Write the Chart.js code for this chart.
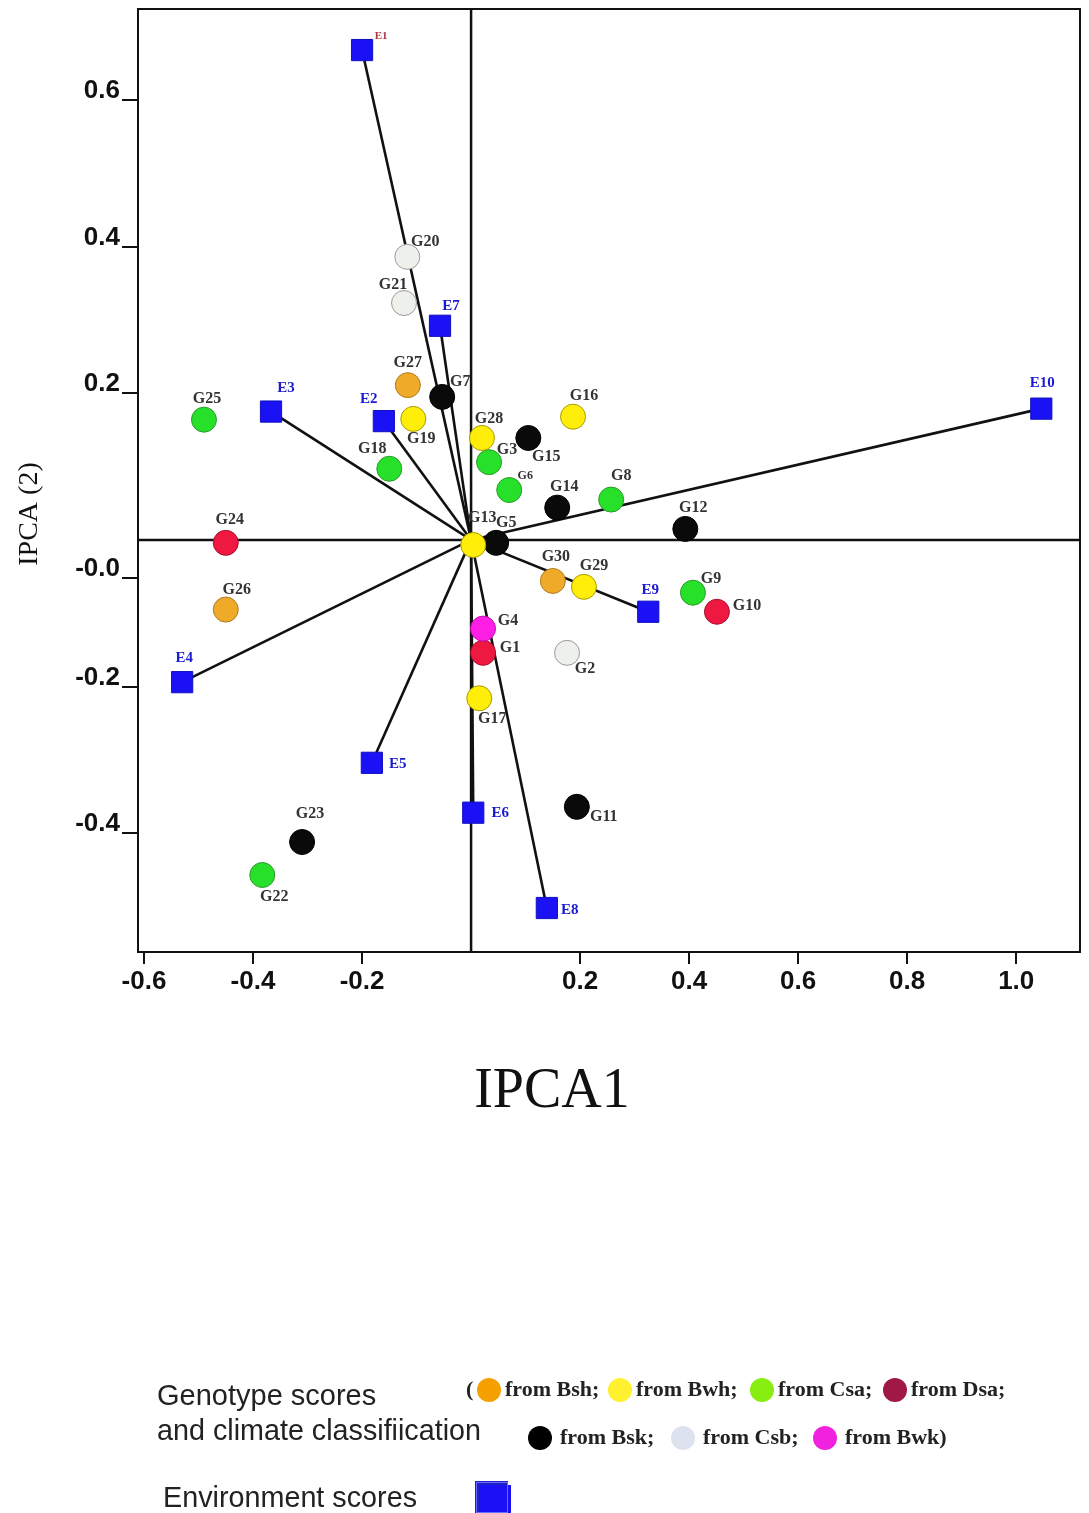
<!DOCTYPE html>
<html>
<head>
<meta charset="utf-8">
<title>AMMI biplot IPCA1 vs IPCA2</title>
<script src="https://cdn.jsdelivr.net/npm/chart.js@4.4.1/dist/chart.umd.min.js"></script>
<style>
  html, body { margin: 0; padding: 0; background: #fff; }
  #wrap { width: 1089px; height: 1513px; }
</style>
</head>
<body>
<div id="wrap"><canvas id="biplot" width="1089" height="1513"></canvas></div>
<script>
// genotype scores (IPCA1, IPCA2) and their climate class
const genoNames = ['G1','G2','G3','G4','G5','G6','G7','G8','G9','G10',
                   'G11','G12','G13','G14','G15','G16','G17','G18','G19','G20',
                   'G21','G22','G23','G24','G25','G26','G27','G28','G29','G30'];
const genoX = [0.022, 0.176, 0.033, 0.022, 0.046, 0.070, -0.053, 0.257, 0.407, 0.451,
               0.194, 0.393, 0.004, 0.158, 0.105, 0.187, 0.015, -0.150, -0.106, -0.117,
               -0.123, -0.383, -0.310, -0.450, -0.490, -0.450, -0.116, 0.020, 0.207, 0.150];
const genoY = [-0.154, -0.154, 0.106, -0.121, -0.004, 0.068, 0.195, 0.055, -0.072, -0.098,
               -0.364, 0.015, -0.007, 0.044, 0.139, 0.168, -0.216, 0.097, 0.165, 0.386,
               0.323, -0.457, -0.412, -0.004, 0.164, -0.095, 0.211, 0.139, -0.064, -0.056];
const genoClimate = ['Dsa','Csb','Csa','Bwk','Bsk','Csa','Bsk','Csa','Csa','Dsa',
                     'Bsk','Bsk','Bwh','Bsk','Bsk','Bwh','Bwh','Csa','Bwh','Csb',
                     'Csb','Csa','Bsk','Dsa','Csa','Bsh','Bsh','Bwh','Bwh','Bsh'];

// environment scores
const envNames = ['E1','E2','E3','E4','E5','E6','E7','E8','E9','E10'];
const envX = [-0.200, -0.160, -0.367, -0.530, -0.182, 0.004, -0.057, 0.139, 0.325, 1.046];
const envY = [0.668, 0.162, 0.175, -0.194, -0.304, -0.372, 0.292, -0.502, -0.098, 0.179];

// axis ticks
const xTicks = [-0.6, -0.4, -0.2, 0.2, 0.4, 0.6, 0.8, 1.0];
const xTickLabels = ['-0.6', '-0.4', '-0.2', '0.2', '0.4', '0.6', '0.8', '1.0'];
const yTicks = [0.6, 0.4, 0.2, -0.052, -0.2, -0.4];
const yTickLabels = ['0.6', '0.4', '0.2', '-0.0', '-0.2', '-0.4'];

// legend order
const legendRow1 = ['Bsh', 'Bwh', 'Csa', 'Dsa'];
const legendRow2 = ['Bsk', 'Csb', 'Bwk'];

// colours
const fill = { Bsh: '#f0aa2a', Bwh: '#ffee0a', Csa: '#26e02a', Dsa: '#ee1840',
               Bsk: '#0a0a0a', Csb: '#eef0ec', Bwk: '#ff1ee6' };
const edge = { Bsh: '#b07a20', Bwh: '#a89a00', Csa: '#2a9a2a', Dsa: '#a81030',
               Bsk: '#000000', Csb: '#9a9a9a', Bwk: '#c010b0' };
const legendFill = { Bsh: '#f5a000', Bwh: '#fff030', Csa: '#88ee11', Dsa: '#a01845',
                     Bsk: '#000000', Csb: '#dce3ee', Bwk: '#f022e0' };
const envBlue = '#1a12f5';

// where each name sits relative to its marker (pixels)
const nudge = {
  G1: [27, -5], G2: [18, 16], G3: [18, -12], G4: [25, -8], G5: [10, -20],
  G6: [16, -14], G7: [18, -15], G8: [10, -24], G9: [18, -14], G10: [30, -6],
  G11: [27, 10], G12: [8, -21], G13: [9, -27], G14: [7, -21], G15: [18, 19],
  G16: [11, -21], G17: [13, 21], G18: [-17, -20], G19: [8, 20], G20: [18, -15],
  G21: [-11, -18], G22: [12, 22], G23: [8, -28], G24: [4, -23], G25: [3, -21],
  G26: [11, -20], G27: [0, -22], G28: [7, -19], G29: [10, -21], G30: [3, -24],
  E1: [19, -14], E2: [-15, -22], E3: [15, -23], E4: [2, -24], E5: [26, 1],
  E6: [27, 0], E7: [11, -20], E8: [23, 2], E9: [2, -22], E10: [1, -26]
};

const envLines = envNames.map((n, i) => ({
  label: n + ' vector',
  data: [{ x: 0, y: 0 }, { x: envX[i], y: envY[i] }],
  showLine: true,
  borderColor: '#111',
  borderWidth: 2.6,
  pointRadius: 0,
  order: 3
}));

const genoSet = {
  label: 'Genotypes',
  data: genoNames.map((n, i) => ({ x: genoX[i], y: genoY[i] })),
  pointRadius: 12.5,
  pointStyle: 'circle',
  backgroundColor: genoClimate.map(c => fill[c]),
  borderColor: genoClimate.map(c => edge[c]),
  borderWidth: 1,
  order: 2
};

const envSet = {
  label: 'Environments',
  data: envNames.map((n, i) => ({ x: envX[i], y: envY[i] })),
  pointRadius: 15,
  pointStyle: 'rect',
  backgroundColor: envBlue,
  borderColor: '#1010c0',
  borderWidth: 1,
  order: 1
};

const framePlugin = {
  id: 'frame',
  beforeDatasetsDraw(chart) {
    const { ctx, chartArea: a, scales: { x, y } } = chart;
    ctx.save();
    ctx.strokeStyle = '#111';
    ctx.lineWidth = 2.5;
    const x0 = x.getPixelForValue(0), y0 = y.getPixelForValue(0);
    ctx.beginPath();
    ctx.moveTo(x0, a.top); ctx.lineTo(x0, a.bottom);
    ctx.moveTo(a.left, y0); ctx.lineTo(a.right, y0);
    ctx.stroke();
    ctx.lineWidth = 2;
    ctx.beginPath();
    ctx.moveTo(a.left, a.top); ctx.lineTo(a.right, a.top); ctx.lineTo(a.right, a.bottom);
    ctx.stroke();
    ctx.restore();
  }
};

const labelPlugin = {
  id: 'pointNames',
  afterDatasetsDraw(chart) {
    const { ctx, scales: { x, y } } = chart;
    ctx.save();
    ctx.textAlign = 'center';
    ctx.textBaseline = 'middle';
    genoNames.forEach((n, i) => {
      ctx.font = (n === 'G6' ? 'bold 12px' : 'bold 16px') + ' "Liberation Serif", "Times New Roman", serif';
      ctx.fillStyle = '#333';
      ctx.fillText(n, x.getPixelForValue(genoX[i]) + nudge[n][0], y.getPixelForValue(genoY[i]) + nudge[n][1]);
    });
    envNames.forEach((n, i) => {
      ctx.font = (n === 'E1' ? 'bold 11px' : 'bold 15px') + ' "Liberation Serif", "Times New Roman", serif';
      ctx.fillStyle = n === 'E1' ? '#b03040' : '#1a1ad0';
      ctx.fillText(n, x.getPixelForValue(envX[i]) + nudge[n][0], y.getPixelForValue(envY[i]) + nudge[n][1]);
    });
    ctx.restore();
  }
};

const extrasPlugin = {
  id: 'extras',
  afterDraw(chart) {
    const ctx = chart.ctx;
    ctx.save();
    ctx.fillStyle = '#111';
    ctx.textBaseline = 'middle';

    // axis titles
    ctx.textAlign = 'center';
    ctx.font = '56px "Liberation Serif", "Times New Roman", serif';
    ctx.fillText('IPCA1', 552, 1092);
    ctx.save();
    ctx.translate(30, 514);
    ctx.rotate(-Math.PI / 2);
    ctx.font = '28px "Liberation Serif", "Times New Roman", serif';
    ctx.fillText('IPCA (2)', 0, 0);
    ctx.restore();

    // legend text on the left
    ctx.textAlign = 'left';
    ctx.fillStyle = '#222';
    ctx.font = '29px "Liberation Sans", Arial, sans-serif';
    ctx.fillText('Genotype scores', 157, 1397, 224);
    ctx.fillText('and climate classifiication', 157, 1432, 324);
    ctx.fillText('Environment scores', 163, 1499, 254);

    // legend rows of coloured circles
    ctx.font = 'bold 22px "Liberation Serif", "Times New Roman", serif';
    ctx.fillText('(', 466, 1390);
    const row1x = [489, 620, 762, 895];
    legendRow1.forEach((c, i) => {
      ctx.beginPath();
      ctx.arc(row1x[i], 1390, 12, 0, Math.PI * 2);
      ctx.fillStyle = legendFill[c];
      ctx.fill();
      ctx.fillStyle = '#222';
      ctx.fillText('from ' + c + ';', row1x[i] + 16, 1390);
    });
    const row2x = [540, 683, 825];
    legendRow2.forEach((c, i) => {
      ctx.beginPath();
      ctx.arc(row2x[i], 1438, 12, 0, Math.PI * 2);
      ctx.fillStyle = legendFill[c];
      ctx.fill();
      ctx.fillStyle = '#222';
      const tail = i === legendRow2.length - 1 ? ')' : ';';
      ctx.fillText('from ' + c + tail, row2x[i] + 20, 1438);
    });

    // environment legend square
    ctx.fillStyle = '#2020c8';
    ctx.fillRect(475, 1481, 33, 32);
    ctx.fillStyle = envBlue;
    ctx.fillRect(479, 1485, 32, 28);
    ctx.strokeStyle = '#6a6aff';
    ctx.lineWidth = 1;
    ctx.strokeRect(476.5, 1482.5, 31, 30);
    ctx.restore();
  }
};

const tickFont = { family: '"Liberation Sans", Arial, sans-serif', size: 26, weight: 'bold' };

new Chart(document.getElementById('biplot'), {
  type: 'scatter',
  data: { datasets: [...envLines, genoSet, envSet] },
  options: {
    responsive: false,
    animation: false,
    devicePixelRatio: 1,
    layout: { autoPadding: false, padding: { top: 9, right: 9, bottom: 511, left: 0 } },
    plugins: { legend: { display: false }, tooltip: { enabled: false } },
    scales: {
      x: {
        type: 'linear',
        min: -0.611,
        max: 1.117,
        afterBuildTicks: s => { s.ticks = xTicks.map(v => ({ value: v })); },
        afterFit: s => { s.height = 50; s.paddingLeft = 0; s.paddingRight = 0; },
        ticks: {
          callback: (v, i) => xTickLabels[i],
          font: tickFont, color: '#111', padding: 2,
          maxRotation: 0, autoSkip: false
        },
        grid: { drawOnChartArea: false, drawTicks: true, tickLength: 12, color: '#111', lineWidth: 2 },
        border: { display: true, color: '#111', width: 2 }
      },
      y: {
        type: 'linear',
        min: -0.562,
        max: 0.724,
        afterBuildTicks: s => { s.ticks = yTicks.map(v => ({ value: v })); },
        afterFit: s => { s.width = 138; s.paddingTop = 0; s.paddingBottom = 0; },
        ticks: {
          callback: (v, i) => yTickLabels[i],
          font: tickFont, color: '#111', padding: 2,
          labelOffset: -9, autoSkip: false
        },
        grid: { drawOnChartArea: false, drawTicks: true, tickLength: 16, color: '#111', lineWidth: 2 },
        border: { display: true, color: '#111', width: 2 }
      }
    }
  },
  plugins: [framePlugin, labelPlugin, extrasPlugin]
});
</script>
</body>
</html>
